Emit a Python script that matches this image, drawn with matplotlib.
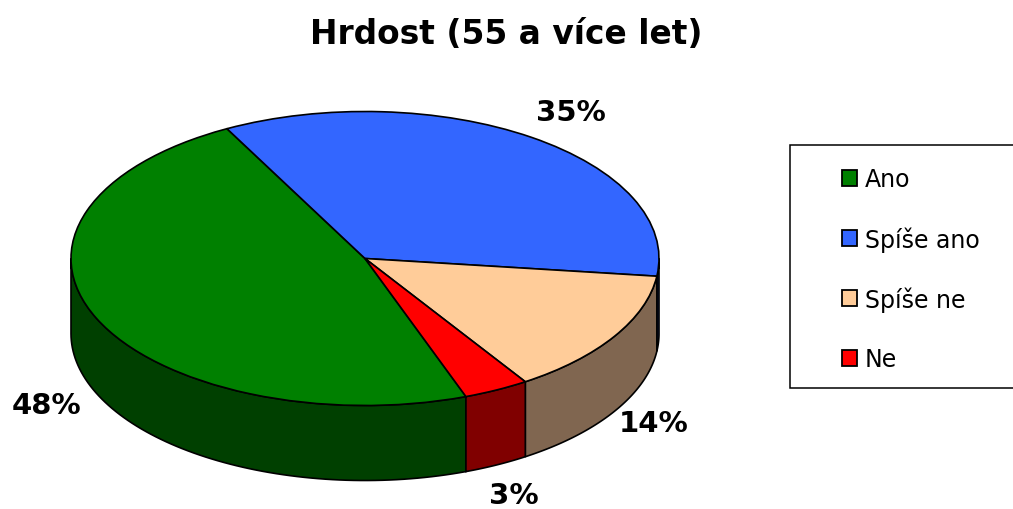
import matplotlib
matplotlib.use("Agg")
import matplotlib.pyplot as plt
import numpy as np
from matplotlib.patches import Polygon, Rectangle

plt.rcParams["font.family"] = ["DejaVu Sans"]

title = "Hrdost (55 a více let)"
categories = ["Ano", "Spíše ano", "Spíše ne", "Ne"]
values = [47.8, 34.7, 13.9, 3.6]
labels = ["48%", "35%", "14%", "3%"]
top_colors = ["#008000", "#3366FF", "#FFCC99", "#FF0000"]
side_colors = ["#004000", "#1A3380", "#806650", "#800000"]

W, H = 1013, 510
CX, CY, RX, RY = 365, 259.5, 294, 147
DEPTH = 75 / RY
START = 118 + 360 * values[0] / 100

fig = plt.figure(figsize=(W / 100, H / 100), dpi=100)
ax = fig.add_axes([0, 0, 1, 1])

# the pie is a unit circle, the axis limits squash it to an ellipse
wedges, _ = ax.pie(values, colors=top_colors, startangle=START, counterclock=False, radius=1,
                   wedgeprops={"edgecolor": "k", "linewidth": 1.2})
for w in wedges:
    w.set_zorder(3)
ax.set_aspect("auto")
ax.set_xlim(-CX / RX, (W - CX) / RX)
ax.set_ylim((CY - H) / RY, CY / RY)
ax.axis("off")

# side wall, only the front half (angles 180 to 360) shows
ang = START
for v, col in zip(values, side_colors):
    a1, a0 = ang, ang - 360 * v / 100
    ang = a0
    for k in (0, -360):
        lo = max(a0 + k, -180)
        hi = min(a1 + k, 0)
        if lo < hi:
            t = np.radians(np.linspace(lo, hi, 80))
            x = np.cos(t)
            y = np.sin(t)
            pts = np.vstack([np.column_stack([x, y]),
                             np.column_stack([x[::-1], y[::-1] - DEPTH])])
            ax.add_patch(Polygon(pts, closed=True, fc=col, ec="k", lw=1.2, zorder=2))


def px(x, y):
    return x / W, 1 - y / H


fig.text(*px(506.5, 34), title, fontsize=23.7, fontweight="bold", ha="center", va="center")

label_pos = [(46, 406), (571, 113), (654, 424), (514, 496)]
for s, (x, y) in zip(labels, label_pos):
    fig.text(*px(x, y), s, fontsize=21, fontweight="bold", ha="center", va="center")

# legend box runs off the right edge
fig.add_artist(Rectangle(px(790, 389), 240 / W, 243.5 / H, transform=fig.transFigure,
                         fc="w", ec="k", lw=1.1))
for i, (name, col) in enumerate(zip(categories, top_colors)):
    y = 178.5 + i * 60
    fig.add_artist(Rectangle(px(841.5, y + 8), 15.5 / W, 16 / H, transform=fig.transFigure,
                             fc=col, ec="k", lw=1.3))
    fig.text(*px(865, y + 1.5), name, fontsize=17, ha="left", va="center")

fig.savefig("out.png", dpi=100)
